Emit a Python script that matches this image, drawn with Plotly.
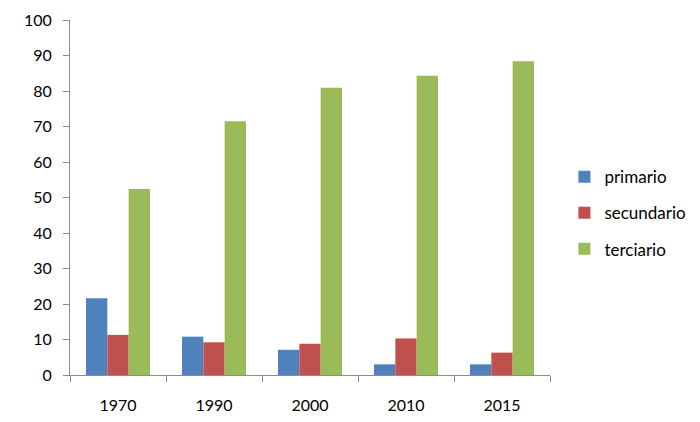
import plotly.graph_objects as go

years = ["1970", "1990", "2000", "2010", "2015"]
primario = [21.6, 10.8, 7.1, 3.0, 3.0]
secundario = [11.3, 9.2, 8.8, 10.3, 6.3]
terciario = [52.4, 71.5, 80.9, 84.3, 88.4]

series = [("primario", primario, "#4F81BD"),
          ("secundario", secundario, "#C0504D"),
          ("terciario", terciario, "#9BBB59")]

fig = go.Figure()
for i, (name, vals, col) in enumerate(series):
    fig.add_trace(go.Bar(x=years, y=vals, name=name, marker_color=col,
                         marker_line_width=0, legendgroup=str(i)))

font = "Lato, 'Open Sans', sans-serif"
fig.update_layout(
    width=700, height=422,
    margin=dict(l=70, r=150, t=20, b=47, autoexpand=False),
    paper_bgcolor="white", plot_bgcolor="white",
    barmode="group", bargap=1/3, bargroupgap=0,
    font=dict(family=font, size=16, color="#000000"),
    legend=dict(x=1.03, y=0.456, xanchor="left", yanchor="middle",
                font=dict(size=17), tracegroupgap=11, itemwidth=30),
    showlegend=True,
)
fig.update_xaxes(type="category", showline=True, linecolor="#8C8C8C", linewidth=1,
                 ticks="outside", ticklen=6, tickcolor="#8C8C8C", tickson="boundaries",
                 showgrid=False, ticklabelstandoff=16, tickfont=dict(size=16),
                 automargin=False)
fig.update_yaxes(range=[0, 100], dtick=10, showline=True, linecolor="#8C8C8C", linewidth=1,
                 ticks="outside", ticklen=6, tickcolor="#8C8C8C", showgrid=False,
                 zeroline=False, ticklabelstandoff=8, tickfont=dict(size=16),
                 automargin=False)

fig.write_html("out.html", config={"displayModeBar": False},
               post_script="document.body.style.margin='0';")
